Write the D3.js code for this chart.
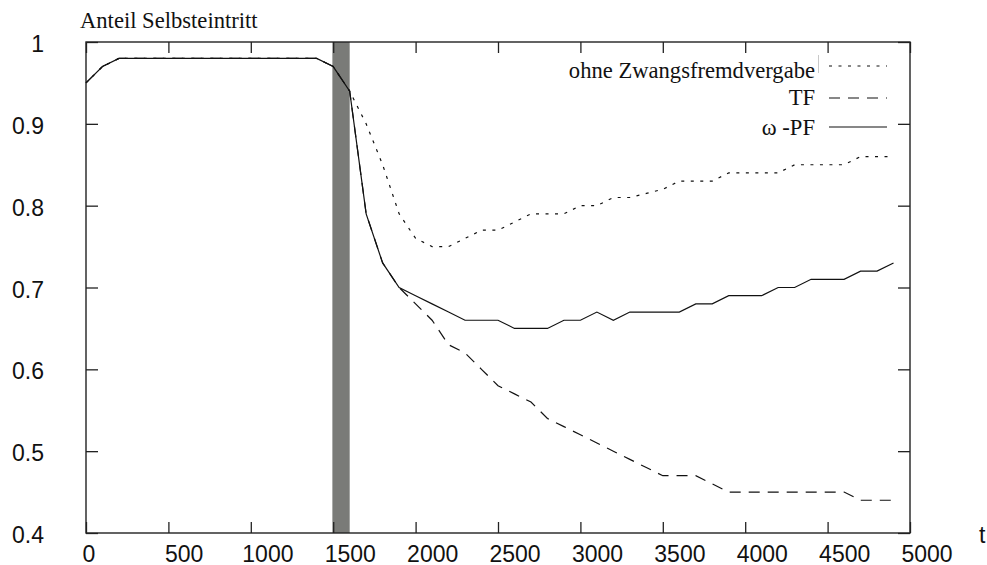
<!DOCTYPE html>
<html>
<head>
<meta charset="utf-8">
<script src="https://cdn.jsdelivr.net/npm/d3@7"></script>
<style>
  body { margin: 0; background: #fff; }
  svg { display: block; }
  .sans { font-family: "Liberation Sans", Arial, sans-serif; font-size: 23px; fill: #111; }
  .serif { font-family: "Liberation Serif", "Times New Roman", serif; font-size: 22.6px; fill: #111; }
</style>
</head>
<body>
<div id="chart"></div>
<script>
// t in Schritten von 100
const tValues = [
  0, 100, 200, 300, 400, 500, 600, 700, 800, 900,
  1000, 1100, 1200, 1300, 1400, 1500, 1600, 1700, 1800, 1900,
  2000, 2100, 2200, 2300, 2400, 2500, 2600, 2700, 2800, 2900,
  3000, 3100, 3200, 3300, 3400, 3500, 3600, 3700, 3800, 3900,
  4000, 4100, 4200, 4300, 4400, 4500, 4600, 4700, 4800, 4900
];

const ohne = [
  0.95, 0.97, 0.98, 0.98, 0.98, 0.98, 0.98, 0.98, 0.98, 0.98,
  0.98, 0.98, 0.98, 0.98, 0.98, 0.97, 0.94, 0.90, 0.85, 0.79,
  0.76, 0.75, 0.75, 0.76, 0.77, 0.77, 0.78, 0.79, 0.79, 0.79,
  0.80, 0.80, 0.81, 0.81, 0.815, 0.82, 0.83, 0.83, 0.83, 0.84,
  0.84, 0.84, 0.84, 0.85, 0.85, 0.85, 0.85, 0.86, 0.86, 0.86
];

const tf = [
  0.95, 0.97, 0.98, 0.98, 0.98, 0.98, 0.98, 0.98, 0.98, 0.98,
  0.98, 0.98, 0.98, 0.98, 0.98, 0.97, 0.94, 0.79, 0.73, 0.70,
  0.68, 0.66, 0.63, 0.62, 0.60, 0.58, 0.57, 0.56, 0.54, 0.53,
  0.52, 0.51, 0.50, 0.49, 0.48, 0.47, 0.47, 0.47, 0.46, 0.45,
  0.45, 0.45, 0.45, 0.45, 0.45, 0.45, 0.45, 0.44, 0.44, 0.44
];

const pf = [
  0.95, 0.97, 0.98, 0.98, 0.98, 0.98, 0.98, 0.98, 0.98, 0.98,
  0.98, 0.98, 0.98, 0.98, 0.98, 0.97, 0.94, 0.79, 0.73, 0.70,
  0.69, 0.68, 0.67, 0.66, 0.66, 0.66, 0.65, 0.65, 0.65, 0.66,
  0.66, 0.67, 0.66, 0.67, 0.67, 0.67, 0.67, 0.68, 0.68, 0.69,
  0.69, 0.69, 0.70, 0.70, 0.71, 0.71, 0.71, 0.72, 0.72, 0.73
];

const xTicks = [0, 500, 1000, 1500, 2000, 2500, 3000, 3500, 4000, 4500, 5000];
const yTicks = [0.4, 0.5, 0.6, 0.7, 0.8, 0.9, 1];
const band = [1495, 1600];
const legendLabels = ["ohne Zwangsfremdvergabe", "TF", "ω -PF"];

const width = 987, height = 565;
const m = {top: 42, right: 77, bottom: 32, left: 86};

const svg = d3.select("#chart").append("svg")
  .attr("width", width)
  .attr("height", height);

const x = d3.scaleLinear().domain([0, 5000]).range([m.left, width - m.right]);
const y = d3.scaleLinear().domain([0.4, 1]).range([height - m.bottom, m.top]);

// grauer Balken
svg.append("rect")
  .attr("x", x(band[0]))
  .attr("y", y(1))
  .attr("width", x(band[1]) - x(band[0]))
  .attr("height", y(0.4) - y(1))
  .attr("fill", "#7a7b78");

// Achsen, Ticks nach innen auf allen vier Seiten
const frameColor = "#222";

svg.append("g")
  .attr("transform", "translate(0," + y(0.4) + ")")
  .call(d3.axisBottom(x).tickValues(xTicks).tickSizeInner(-11).tickSizeOuter(0).tickFormat(d3.format("d")))
  .call(g => g.select(".domain").remove())
  .call(g => g.selectAll("line").attr("stroke", frameColor).attr("stroke-width", 1.3))
  .call(g => g.selectAll("text")
    .attr("class", "sans")
    .attr("font-family", null).attr("font-size", null)
    .attr("text-anchor", "start")
    .attr("x", d => String(d).length < 4 ? -4 : -9)
    .attr("y", 28.5)
    .attr("dy", null));

svg.append("g")
  .attr("transform", "translate(0," + y(1) + ")")
  .call(d3.axisTop(x).tickValues(xTicks).tickSizeInner(-11).tickSizeOuter(0).tickFormat(""))
  .call(g => g.select(".domain").remove())
  .call(g => g.selectAll("line").attr("stroke", frameColor).attr("stroke-width", 1.3));

svg.append("g")
  .attr("transform", "translate(" + x(0) + ",0)")
  .call(d3.axisLeft(y).tickValues(yTicks).tickSizeInner(-12).tickSizeOuter(0).tickFormat(d3.format("~g")))
  .call(g => g.select(".domain").remove())
  .call(g => g.selectAll("line").attr("stroke", frameColor).attr("stroke-width", 1.3))
  .call(g => g.selectAll("text")
    .attr("class", "sans")
    .attr("font-family", null).attr("font-size", null)
    .attr("text-anchor", "end")
    .attr("x", -42)
    .attr("y", 9.5)
    .attr("dy", null));

svg.append("g")
  .attr("transform", "translate(" + x(5000) + ",0)")
  .call(d3.axisRight(y).tickValues(yTicks).tickSizeInner(-12).tickSizeOuter(0).tickFormat(""))
  .call(g => g.select(".domain").remove())
  .call(g => g.selectAll("line").attr("stroke", frameColor).attr("stroke-width", 1.3));

svg.append("rect")
  .attr("x", x(0))
  .attr("y", y(1))
  .attr("width", x(5000) - x(0))
  .attr("height", y(0.4) - y(1))
  .attr("fill", "none")
  .attr("stroke", frameColor)
  .attr("stroke-width", 1.4);

// Kurven
const line = d3.line()
  .x((d, i) => x(tValues[i]))
  .y(d => y(d));

const styles = [
  {data: ohne, dash: "3,6.5"},
  {data: tf, dash: "11,8"},
  {data: pf, dash: null}
];

svg.selectAll("path.series")
  .data(styles)
  .enter().append("path")
  .attr("class", "series")
  .attr("d", d => line(d.data))
  .attr("fill", "none")
  .attr("stroke", "#111")
  .attr("stroke-width", 1.2)
  .attr("stroke-dasharray", d => d.dash);

// Legende
const textY = [78, 105, 135];
const sampleY = [66, 98, 127];

const legend = svg.append("g");
legend.selectAll("text")
  .data(legendLabels)
  .enter().append("text")
  .attr("class", "serif")
  .attr("x", 815)
  .attr("y", (d, i) => textY[i])
  .attr("text-anchor", "end")
  .text(d => d);

legend.selectAll("line")
  .data(styles)
  .enter().append("line")
  .attr("x1", 829)
  .attr("x2", 887)
  .attr("y1", (d, i) => sampleY[i])
  .attr("y2", (d, i) => sampleY[i])
  .attr("stroke", "#111")
  .attr("stroke-width", 1.2)
  .attr("stroke-dasharray", d => d.dash);

legend.append("line")
  .attr("x1", 818.5).attr("x2", 818.5)
  .attr("y1", 55).attr("y2", 73)
  .attr("stroke", "#c8c8c8")
  .attr("stroke-width", 1);

// Beschriftungen
svg.append("text")
  .attr("class", "serif")
  .attr("x", 80)
  .attr("y", 28)
  .text("Anteil Selbsteintritt");

svg.append("text")
  .attr("class", "sans")
  .attr("x", 979)
  .attr("y", 543)
  .text("t");
</script>
</body>
</html>
